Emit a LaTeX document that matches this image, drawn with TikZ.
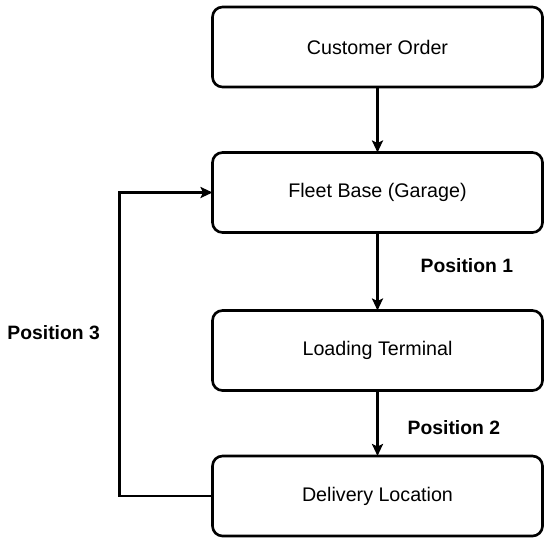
\documentclass[tikz,border=0pt]{standalone}
\usepackage{fontspec}
\setmainfont{Liberation Sans}
\usepackage{tikz}
\usetikzlibrary{positioning,arrows.meta}

\begin{document}
\begin{tikzpicture}[
  block/.style={draw, line width=1.5pt, rounded corners=0.2cm, outer sep=0pt, minimum height=1.6cm, minimum width=6.6cm, align=center, font=\fontsize{11.2}{13}\selectfont},
  lbl/.style={font=\fontsize{11}{13}\selectfont\bfseries},
  link/.style={->, line width=1.5pt},
  >={Stealth[length=2.4mm, width=2.2mm, inset=0.5mm]}]
\useasboundingbox (0,0) rectangle (11,10.84);
\node[block] (order) at (7.55,9.9) {Customer Order};
\node[block, below=1.31cm of order] (fleet) {Fleet Base (Garage)};
\node[block, below=1.56cm of fleet] (load) {Loading Terminal};
\node[block, below=1.31cm of load] (deliv) {Delivery Location};
\draw[link] (order) -- (fleet);
\draw[link] (fleet) -- (load)
  node[pos=0.43, right=0.72cm, lbl] {Position 1};
\draw[link] (load) -- (deliv)
  node[pos=0.56, right=0.46cm, lbl] {Position 2};
\draw[link] (deliv.west) -- ++(-1.86,0) |- (fleet.west)
  node[pos=0.27, left=0.25cm, lbl] {Position 3};
\end{tikzpicture}
\end{document}
